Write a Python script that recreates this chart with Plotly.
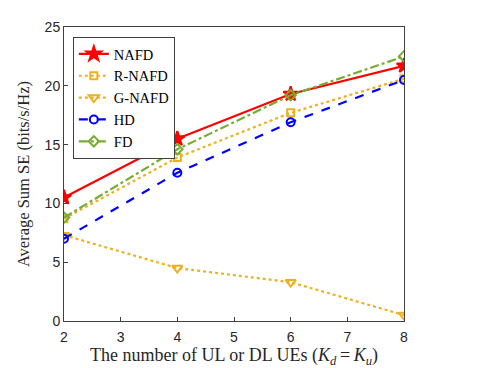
import plotly.graph_objects as go

# data
users = [2, 4, 6, 8]
nafd = [10.5, 15.5, 19.3, 21.7]
r_nafd = [8.7, 13.9, 17.7, 20.6]
g_nafd = [7.3, 4.5, 3.3, 0.5]
hd = [7.0, 12.6, 16.9, 20.5]
fd = [8.8, 14.6, 19.2, 22.5]

serif = "Liberation Serif"
sans = "Liberation Sans"

fig = go.Figure()

# name, values, colour, dash, marker symbol, marker size
series = [
    ("NAFD", nafd, "#FF0000", "solid", "star", 11),
    ("R-NAFD", r_nafd, "#EDB120", "dot", "square-open", 7),
    ("G-NAFD", g_nafd, "#EDB120", "dot", "triangle-down-open", 9),
    ("HD", hd, "#0000FF", "dash", "circle-open", 8),
    ("FD", fd, "#77AC30", "dashdot", "diamond-open", 8),
]
for name, vals, col, dash, sym, size in series:
    fig.add_trace(go.Scatter(
        x=users, y=vals, name=name, mode="lines+markers",
        line=dict(color=col, width=2.2, dash=dash),
        marker=dict(symbol=sym, size=size, color=col, line=dict(color=col, width=2)),
    ))

axis_common = dict(
    showgrid=False, zeroline=False, mirror=True, showline=True, automargin=False,
    linecolor="#404040", linewidth=1, ticks="inside", ticklen=4,
    tickcolor="#404040", tickfont=dict(family=sans, size=14, color="#262626"),
)

# page body has an 8px margin, so the figure is a bit smaller than the window
fig.update_layout(
    width=483, height=360,
    margin=dict(l=56, r=87, t=19, b=47),
    paper_bgcolor="white", plot_bgcolor="white",
    font=dict(family=serif, color="#262626"),
    xaxis=dict(axis_common, range=[2, 8], dtick=1, ticklabelstandoff=3,
               title=dict(text="The number of UL or DL UEs (<i>K<sub>d</sub></i>\u2009=\u2009<i>K<sub>u</sub></i>)",
                          font=dict(family=serif, size=18), standoff=3)),
    yaxis=dict(axis_common, range=[0, 25], dtick=5,
               title=dict(text="Average Sum SE (bits/s/Hz)",
                          font=dict(family=serif, size=16.5), standoff=10)),
    legend=dict(x=0.026, y=0.966, xanchor="left", yanchor="top",
                bgcolor="white", bordercolor="#404040", borderwidth=1,
                font=dict(family=serif, size=14.5, color="black"),
                tracegroupgap=0, itemwidth=30),
)

fig.write_html("out.html")
